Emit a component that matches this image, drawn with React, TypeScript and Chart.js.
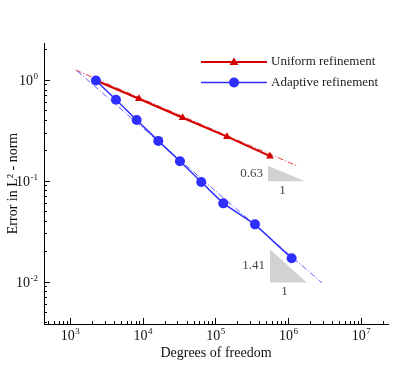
import React, { useEffect, useRef } from 'react';
import { Chart, registerables } from 'chart.js';

Chart.register(...registerables);

// ---- data ----
const uniformDofs = [2275, 8870, 35400, 144000, 561000];
const uniformErrors = [0.985, 0.649, 0.421, 0.273, 0.175];
const adaptiveDofs = [2275, 4290, 8260, 16370, 32500, 63800, 128000, 349000, 1114000];
const adaptiveErrors = [0.985, 0.634, 0.4, 0.248, 0.156, 0.097, 0.0596, 0.0369, 0.017];
const uniformRefDofs = [1200, 1360000];
const uniformRefErrors = [1.25, 0.139];
const adaptiveRefDofs = [1260, 2900000];
const adaptiveRefErrors = [1.22, 0.0097];
const xTickValues = [1e3, 1e4, 1e5, 1e6, 1e7];
const xTickExponents = ['3', '4', '5', '6', '7'];
const yTickValues = [1e-2, 1e-1, 1e0];
const yTickExponents = ['-2', '-1', '0'];
const slopeTriangleDofs = [[527000, 1700000], [561000, 1800000]];
const slopeTriangleErrors = [[0.141, 0.0989], [0.0209, 0.0098]];
const slopeLabels = ['0.63', '1.41'];
const seriesNames = ['Uniform refinement', 'Adaptive refinement'];

const X_MIN = 440;
const X_MAX = 2.35e7;
const Y_MIN = 0.00379;
const Y_MAX = 2.32;

const FONT = "'Liberation Serif', 'Times New Roman', 'DejaVu Serif', serif";
const RED = '#d40000';
const BLUE = '#2e2eff';

function toXY(xs: number[], ys: number[]) {
  return xs.map((x, i) => ({ x, y: ys[i] }));
}

const decorPlugin = {
  id: 'decor',
  beforeDatasetsDraw(chart: any) {
    const { ctx } = chart;
    const xs = chart.scales.x;
    const ys = chart.scales.y;
    ctx.save();
    // slope triangles
    slopeTriangleDofs.forEach((dx, i) => {
      const dy = slopeTriangleErrors[i];
      const x0 = xs.getPixelForValue(dx[0]);
      const x1 = xs.getPixelForValue(dx[1]);
      const y0 = ys.getPixelForValue(dy[0]);
      const y1 = ys.getPixelForValue(dy[1]);
      ctx.beginPath();
      ctx.moveTo(x0, y0);
      ctx.lineTo(x0, y1);
      ctx.lineTo(x1, y1);
      ctx.closePath();
      ctx.fillStyle = '#d2d2d2';
      ctx.fill();
      ctx.fillStyle = '#444';
      ctx.font = `13px ${FONT}`;
      ctx.textBaseline = 'middle';
      ctx.textAlign = 'right';
      ctx.fillText(slopeLabels[i], x0 - 5, (y0 + y1) / 2);
      ctx.textAlign = 'center';
      ctx.fillText('1', (x0 + x1) / 2 - 4, y1 + 9);
    });
    ctx.restore();
  },
  afterDraw(chart: any) {
    const { ctx } = chart;
    const xs = chart.scales.x;
    const ys = chart.scales.y;
    const area = chart.chartArea;
    ctx.save();
    ctx.strokeStyle = '#000';
    ctx.lineWidth = 1;
    // inward tick marks
    for (let e = -3; e <= 8; e++) {
      for (let m = 1; m <= 9; m++) {
        const v = m * Math.pow(10, e);
        const len = m === 1 ? 6 : 3;
        if (v >= X_MIN && v <= X_MAX) {
          const px = Math.round(xs.getPixelForValue(v)) + 0.5;
          ctx.beginPath();
          ctx.moveTo(px, area.bottom);
          ctx.lineTo(px, area.bottom - len);
          ctx.stroke();
        }
        if (v >= Y_MIN && v <= Y_MAX) {
          const py = Math.round(ys.getPixelForValue(v)) + 0.5;
          ctx.beginPath();
          ctx.moveTo(area.left, py);
          ctx.lineTo(area.left + len, py);
          ctx.stroke();
        }
      }
    }
    // tick labels with superscript exponents
    ctx.fillStyle = '#111';
    ctx.textBaseline = 'alphabetic';
    ctx.textAlign = 'left';
    const base = `14px ${FONT}`;
    const sup = `9px ${FONT}`;
    xTickValues.forEach((v, i) => {
      const px = xs.getPixelForValue(v);
      ctx.font = base;
      const w1 = ctx.measureText('10').width;
      ctx.font = sup;
      const w2 = ctx.measureText(xTickExponents[i]).width;
      const start = px - (w1 + w2) / 2;
      ctx.font = base;
      ctx.fillText('10', start, area.bottom + 16);
      ctx.font = sup;
      ctx.fillText(xTickExponents[i], start + w1 + 0.5, area.bottom + 10);
    });
    yTickValues.forEach((v, i) => {
      const py = ys.getPixelForValue(v);
      ctx.font = sup;
      const w2 = ctx.measureText(yTickExponents[i]).width;
      ctx.font = base;
      const w1 = ctx.measureText('10').width;
      const end = area.left - 6;
      const start = end - w1 - w2 - 0.5;
      ctx.fillText('10', start, py + 5);
      ctx.font = sup;
      ctx.fillText(yTickExponents[i], start + w1 + 0.5, py - 1);
    });
    // legend
    const lx0 = 201;
    const lx1 = 267;
    const rows = [62, 82.5];
    const colors = [RED, BLUE];
    rows.forEach((ly, i) => {
      ctx.strokeStyle = colors[i];
      ctx.lineWidth = i === 0 ? 2 : 1.5;
      ctx.beginPath();
      ctx.moveTo(lx0, ly);
      ctx.lineTo(lx1, ly);
      ctx.stroke();
      ctx.fillStyle = colors[i];
      const cx = (lx0 + lx1) / 2;
      ctx.beginPath();
      if (i === 0) {
        ctx.moveTo(cx, ly - 4.5);
        ctx.lineTo(cx + 4.5, ly + 3);
        ctx.lineTo(cx - 4.5, ly + 3);
        ctx.closePath();
      } else {
        ctx.arc(cx, ly, 5, 0, Math.PI * 2);
      }
      ctx.fill();
      ctx.fillStyle = '#222';
      ctx.font = `13px ${FONT}`;
      ctx.textBaseline = 'middle';
      ctx.fillText(seriesNames[i], lx1 + 4, ly);
    });
    ctx.restore();
  },
};

export default function App() {
  const canvasRef = useRef<HTMLCanvasElement | null>(null);

  useEffect(() => {
    const canvas = canvasRef.current;
    if (!canvas) return;
    const chart = new Chart(canvas, {
      type: 'line',
      data: {
        datasets: [
          {
            label: seriesNames[1],
            data: toXY(adaptiveDofs, adaptiveErrors),
            borderColor: BLUE,
            backgroundColor: BLUE,
            borderWidth: 1.5,
            pointStyle: 'circle',
            pointRadius: 5,
            pointBorderWidth: 0,
            tension: 0,
          },
          {
            label: seriesNames[0],
            data: toXY(uniformDofs, uniformErrors),
            borderColor: RED,
            backgroundColor: RED,
            borderWidth: 2,
            pointStyle: 'triangle',
            pointRadius: 4.5,
            pointBorderWidth: 0,
            tension: 0,
          },
          {
            label: 'uniform reference',
            data: toXY(uniformRefDofs, uniformRefErrors),
            borderColor: 'rgba(215,30,30,0.85)',
            borderWidth: 1,
            borderDash: [6, 2, 1, 2],
            pointRadius: 0,
          },
          {
            label: 'adaptive reference',
            data: toXY(adaptiveRefDofs, adaptiveRefErrors),
            borderColor: 'rgba(70,70,255,0.85)',
            borderWidth: 1,
            borderDash: [6, 2, 1, 2],
            pointRadius: 0,
          },
        ],
      },
      options: {
        animation: false,
        responsive: false,
        maintainAspectRatio: false,
        layout: { padding: { left: 0, top: 43, right: 27, bottom: 0 } },
        plugins: {
          legend: { display: false },
          tooltip: { enabled: false },
        },
        scales: {
          x: {
            type: 'logarithmic',
            min: X_MIN,
            max: X_MAX,
            grid: { display: false },
            border: { display: true, color: '#000', width: 1 },
            ticks: { display: false },
            afterFit: (s: any) => {
              s.height = 42;
            },
            title: {
              display: true,
              text: 'Degrees of freedom',
              color: '#111',
              font: { family: FONT, size: 14 },
              padding: { top: 0, bottom: 4 },
            },
          },
          y: {
            type: 'logarithmic',
            min: Y_MIN,
            max: Y_MAX,
            grid: { display: false },
            border: { display: true, color: '#000', width: 1 },
            ticks: { display: false },
            afterFit: (s: any) => {
              s.width = 44;
            },
            title: {
              display: true,
              text: 'Error in L² - norm',
              color: '#111',
              font: { family: FONT, size: 14 },
              padding: { top: 4.6, bottom: 0 },
            },
          },
        },
      },
      plugins: [decorPlugin],
    } as any);
    return () => chart.destroy();
  }, []);

  return (
    <div style={{ position: 'absolute', left: 0, top: 0, width: 415, height: 366, background: '#fff' }}>
      <canvas ref={canvasRef} width={415} height={366} style={{ display: 'block' }} />
    </div>
  );
}
